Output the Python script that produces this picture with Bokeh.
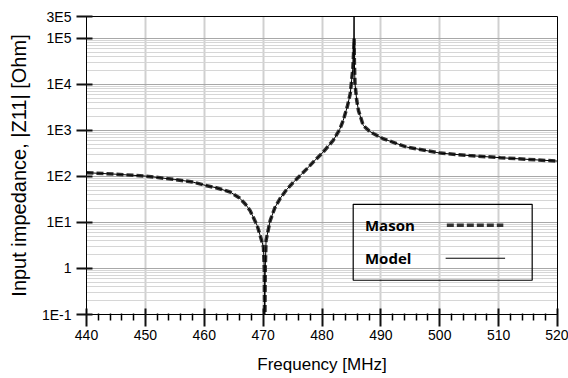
from bokeh.plotting import figure
from bokeh.models import FixedTicker, CustomJSTickFormatter, Range1d, LinearAxis
from bokeh.core.properties import value
from bokeh.embed import file_html
from bokeh.resources import INLINE

# ---- data ----
freq_mhz = [440, 445, 450, 455, 458, 460.2, 462, 464.4, 466, 467, 467.8, 469, 469.5,
            470.06, 470.2, 470.28, 470.36, 470.5, 471.2, 472, 472.9, 474, 475.1, 476.3,
            477.5, 478.5, 480.2, 481.9, 483, 483.6, 484.3, 484.8, 485.25, 485.4, 485.45,
            485.5, 485.6, 485.9, 486.2, 487.0, 488.0, 488.7, 490.4, 494.4, 500.1, 505,
            510.3, 515, 520]
mason_ohm = [121, 112, 102, 86, 76, 64, 57, 46, 34, 25, 18, 8.5, 5.2,
             2.9, 1.0, 0.03, 1.0, 4.1, 11, 21, 33.5, 52, 74, 105,
             150, 205, 340, 607, 1050, 1650, 3300, 6300, 23000, 60000, 100000,
             30000, 10500, 4500, 2700, 1290, 980, 860, 660, 435, 322, 285,
             256, 235, 216]
model_ohm = [121, 112, 102, 86, 76, 64, 57, 46, 34, 25, 18, 8.5, 5.2,
             2.9, 1.0, 0.03, 1.0, 4.1, 11, 21, 33.5, 52, 74, 105,
             150, 205, 340, 607, 1050, 1650, 3300, 6300, 23000, 90000, 600000,
             30000, 10500, 4500, 2700, 1290, 980, 860, 660, 435, 322, 285,
             256, 235, 216]

x_ticks = [440, 450, 460, 470, 480, 490, 500, 510, 520]
x_minor_ticks = [442, 444, 446, 448, 452, 454, 456, 458, 462, 464, 466, 468,
                 472, 474, 476, 478, 482, 484, 486, 488, 492, 494, 496, 498,
                 502, 504, 506, 508, 512, 514, 516, 518]
y_ticks = [0.1, 1, 10, 100, 1000, 10000, 100000, 300000]
y_tick_labels = ["1E-1", "1", "1E1", "1E2", "1E3", "1E4", "1E5", "3E5"]
y_minor_ticks = [m * d for d in [0.1, 1, 10, 100, 1000, 10000] for m in range(2, 10)]
series_names = ["Mason", "Model"]

# ---- figure ----
p = figure(width=568, height=378, x_range=Range1d(440, 520), y_range=Range1d(0.1, 3e5),
           y_axis_type="log", output_backend="svg", toolbar_location=None,
           min_border_left=86, min_border_right=11, min_border_top=16, min_border_bottom=64)

p.xaxis.ticker = FixedTicker(ticks=x_ticks, minor_ticks=x_minor_ticks)
p.yaxis.ticker = FixedTicker(ticks=y_ticks, minor_ticks=y_minor_ticks)
p.yaxis.formatter = CustomJSTickFormatter(args=dict(yt=y_ticks, yl=y_tick_labels), code="""
    for (let i = 0; i < yt.length; i++) {
        if (Math.abs(Math.log10(yt[i]) - Math.log10(tick)) < 1e-6) return yl[i];
    }
    return "";
""")

for ax in (p.xaxis[0], p.yaxis[0]):
    ax.axis_line_color = "black"
    ax.axis_line_width = 1
    ax.major_tick_line_color = "#111111"
    ax.minor_tick_line_color = "black"
    ax.major_tick_line_width = 2
    ax.minor_tick_line_width = 1.5
    ax.major_tick_in = 6
    ax.minor_tick_in = 1
    ax.major_label_text_font = "Liberation Sans"
    ax.major_label_text_font_size = "14px"
    ax.major_label_text_color = "black"
    ax.axis_label_text_font = "Liberation Sans"
    ax.axis_label_text_font_style = "normal"
    ax.axis_label_text_color = "black"

p.xaxis.major_tick_out = 12
p.xaxis.minor_tick_out = 6
p.xaxis.major_label_standoff = 3
p.xaxis.axis_label_standoff = 12
p.xaxis.axis_label_text_font_size = "17px"
p.xaxis.axis_label = "Frequency [MHz]"

p.yaxis.major_tick_out = 10
p.yaxis.minor_tick_out = 0
p.yaxis.minor_tick_in = 0
p.yaxis.minor_tick_line_color = None
p.yaxis.major_label_standoff = 5
p.yaxis.axis_label_standoff = 9
p.yaxis.axis_label_text_font_size = "20px"
p.yaxis.axis_label = "Input impedance, |Z11| [Ohm]"

# frame border on top and right drawn as bare axis lines
for side in ("above", "right"):
    bare = LinearAxis(ticker=FixedTicker(ticks=[], minor_ticks=[]),
                      axis_line_color="black", axis_line_width=1,
                      major_tick_in=0, major_tick_out=0, minor_tick_in=0, minor_tick_out=0,
                      major_label_text_font_size="0px", major_label_standoff=0)
    p.add_layout(bare, side)

p.xgrid.grid_line_color = "#d0d0d0"
p.xgrid.grid_line_width = 2
p.ygrid.grid_line_color = "#a8a8a8"
p.ygrid.grid_line_width = 1
p.ygrid.minor_grid_line_color = "#d6d6d6"
p.ygrid.minor_grid_line_width = 1

p.outline_line_color = None

# ---- curves ----
p.line(freq_mhz, mason_ohm, line_color="#333333", line_width=3.5, line_dash="7 3")
p.line(freq_mhz, model_ohm, line_color="black", line_width=1)

# ---- legend (label left, sample right), drawn with glyphs ----
p.quad(left=[485.3], right=[515.7], bottom=[0.555], top=[24.8],
       fill_color=None, line_color="black", line_width=1.2)
p.text(x=[487.3, 487.3], y=[8.7, 1.67], text=series_names, text_font=value("Open Sans"),
       text_font_style="bold", text_font_size="15px", text_baseline="middle",
       text_color="black")
p.segment(x0=[501.2], y0=[8.7], x1=[510.8], y1=[8.7], line_color="#333333",
          line_width=3.5, line_dash="7 3")
p.segment(x0=[501.0], y0=[1.67], x1=[511.1], y1=[1.67], line_color="black", line_width=1)

open("out.html", "w").write(file_html(p, INLINE))
